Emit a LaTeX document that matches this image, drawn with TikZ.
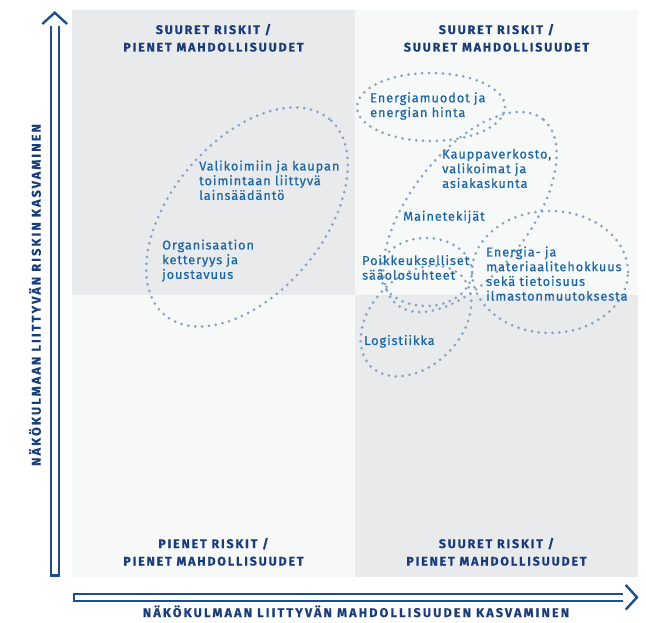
\documentclass[tikz,border=0pt]{standalone}
\usepackage{fontspec}
\setmainfont{Fira Sans}
\newfontfamily\lblfont[LetterSpace=7,FakeBold=0.5]{Fira Sans}
\newfontfamily\hdrfont[LetterSpace=15,BoldFeatures={FakeBold=0.6}]{Fira Sans}
\newfontfamily\axfont[LetterSpace=17,BoldFeatures={FakeBold=0.6}]{Fira Sans}
\definecolor{quaddark}{HTML}{E9EAEC}
\definecolor{quadlight}{HTML}{F7F9F9}
\definecolor{dotc}{HTML}{87A3C5}
\definecolor{lblc}{HTML}{1C66A3}
\definecolor{hdrc}{HTML}{1A3D7A}
\definecolor{arrc}{HTML}{1C4F8F}
\newcommand{\leftlines}[1]{\begin{tabular}[t]{@{}l@{}}#1\end{tabular}}
\newcommand{\centerlines}[1]{\begin{tabular}[t]{@{}c@{}}#1\end{tabular}}
\begin{document}
\begin{tikzpicture}[x=1pt,y=1pt,
  dotell/.style={draw=dotc, line width=3pt, line cap=round, dash pattern=on 0pt off 6.9pt},
  lbl/.style={inner sep=0pt, anchor=base west, text=lblc, font=\lblfont\fontsize{12.8}{14.7}\selectfont},
  hdr/.style={inner sep=0pt, anchor=base, text=hdrc, font=\hdrfont\bfseries\fontsize{12.4}{17.5}\selectfont},
  axlbl/.style={inner sep=0pt, anchor=base, text=hdrc, font=\axfont\bfseries\fontsize{12.6}{15}\selectfont},
  axisline/.style={draw=arrc, line width=2.4pt, line join=miter}]
\useasboundingbox (0,0) rectangle (646,622);
% quadrants
\fill[quaddark]  (72,327) rectangle (355,612);
\fill[quadlight] (355,327) rectangle (638,612);
\fill[quadlight] (72,45) rectangle (355,327);
\fill[quaddark]  (355,45) rectangle (638,327);
% ellipses
\draw[dotell, rotate around={50:(247,405)}] (247,405) ellipse [x radius=128, y radius=76];
\draw[dotell] (431,515) ellipse [x radius=74, y radius=34];
\draw[dotell, rotate around={52:(470,410)}] (470,410) ellipse [x radius=118, y radius=60];
\draw[dotell] (426,350) ellipse [x radius=46, y radius=34];
\draw[dotell, rotate around={45:(416,301)}] (416,301) ellipse [x radius=64, y radius=45];
\draw[dotell] (550,350) ellipse [x radius=78, y radius=61];
% labels
\node[lbl] (valik) at (199,451.5) {\leftlines{Valikoimiin ja kaupan\\toimintaan liittyvä\\lainsäädäntö}};
\node[lbl] (organ) at (162,372.5) {\leftlines{Organisaation\\ketteryys ja\\joustavuus}};
\node[lbl] (energiam) at (370,519.7) {\leftlines{Energiamuodot ja\\energian hinta}};
\node[lbl] (kauppa) at (442,463.5) {\leftlines{Kauppaverkosto,\\valikoimat ja\\asiakaskunta}};
\node[lbl] (maine) at (403,401.3) {Mainetekijät};
\node[lbl] (poikk) at (362,357) {\leftlines{Poikkeukselliset\\sääolosuhteet}};
\node[lbl] (energiat) at (486,365.5) {\leftlines{Energia- ja\\materiaalitehokkuus\\sekä tietoisuus\\ilmastonmuutoksesta}};
\node[lbl] (logist) at (364,277) {Logistiikka};
% headers
\node[hdr] (hTL) at (213.5,588) {\centerlines{SUURET RISKIT /\\PIENET MAHDOLLISUUDET}};
\node[hdr] (hTR) at (496.5,588) {\centerlines{SUURET RISKIT /\\SUURET MAHDOLLISUUDET}};
\node[hdr] (hBL) at (213.5,74) {\centerlines{PIENET RISKIT /\\PIENET MAHDOLLISUUDET}};
\node[hdr] (hBR) at (496.5,74) {\centerlines{SUURET RISKIT /\\PIENET MAHDOLLISUUDET}};
% axes
\coordinate (vl1) at (50.7,596);
\coordinate (vl2) at (50.7,46.5);
\coordinate (vr2) at (58.7,46.5);
\coordinate (vr1) at (58.7,596);
\draw[axisline] (vl1) -- (vl2) -- (vr2) -- (vr1);
\draw[axisline] (42.3,598) -- (54.7,609.3) -- (67.1,598);
\coordinate (ht1) at (623,28.1);
\coordinate (ht2) at (73.9,28.1);
\coordinate (hb2) at (73.9,21.2);
\coordinate (hb1) at (623,21.2);
\draw[axisline] (ht1) -- (ht2) -- (hb2) -- (hb1);
\draw[axisline] (625.7,37) -- (637,24.7) -- (625.7,12.4);
\node[axlbl, rotate=90] (ylab) at (40.7,327) {NÄKÖKULMAAN LIITTYVÄN RISKIN KASVAMINEN};
\node[axlbl] (xlab) at (356,5) {NÄKÖKULMAAN LIITTYVÄN MAHDOLLISUUDEN KASVAMINEN};
\end{tikzpicture}
\end{document}
